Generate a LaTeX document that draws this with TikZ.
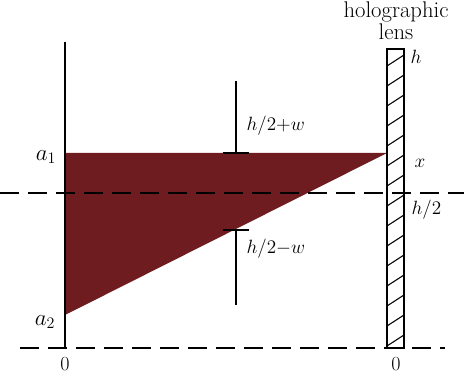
\documentclass[tikz,border=0pt]{standalone}
\usepackage{tikz}
\usetikzlibrary{positioning}
\definecolor{beamred}{HTML}{6E1C1F}

\begin{document}
\begin{tikzpicture}[x=0.75pt,y=-0.75pt,
  font=\fontsize{15}{17}\selectfont,
  wall/.style={line width=1.4pt},
  dashln/.style={line width=1.1pt,dash pattern=on 14pt off 7pt},
  lab/.style={inner sep=1pt},
  big/.style={font=\fontsize{17}{19}\selectfont},
  hatch/.style={line width=0.8pt}]
\useasboundingbox (0,0) rectangle (464,377);

% beam
\fill[beamred] (65,153) -- (387,153) -- (65,315) -- cycle;

% reference lines
\draw[dashln] (0,193) -- (464,193);
\draw[dashln] (20,348) -- (445,348);
\draw[wall] (65,42) -- (65,348);

% apertures
\coordinate (up) at (236,153);
\coordinate (lo) at (236,230);
\draw[wall] (236,81) -- (up);
\draw[wall] ([xshift=-10pt]up) -- ([xshift=10pt]up);
\draw[wall] (lo) -- (236,305);
\draw[wall] ([xshift=-10pt]lo) -- ([xshift=10pt]lo);

% holographic lens
\draw[line width=1.1pt] (387,49) rectangle (404,348);
\begin{scope}
  \clip (387,49) rectangle (404,348);
  \foreach \y in {66,86,...,366}
    \draw[hatch] (387,\y) -- (404,\y-11);
\end{scope}

% labels
\node[lab,big] (la1) at (46,157) {$a_1$};
\node[lab,big] (la2) at (45,322) {$a_2$};
\node[lab,anchor=west] (lpw) at (245,126) {$h/2{+}w$};
\node[lab,anchor=west] (lmw) at (245,249) {$h/2{-}w$};
\node[lab,anchor=west] (lh) at (409,57) {$h$};
\node[lab,anchor=west] (lx) at (413,163) {$x$};
\node[lab,anchor=west] (lh2) at (410,210) {$h/2$};
\node[lab] (z1) at (65,364) {0};
\node[lab] (z2) at (396,364) {0};
\node[big,inner sep=0pt,anchor=base] (title) at (396,18) {holographic};
\node[big,inner sep=0pt,anchor=base] (title2) at (396,39.5) {lens};
\end{tikzpicture}
\end{document}
